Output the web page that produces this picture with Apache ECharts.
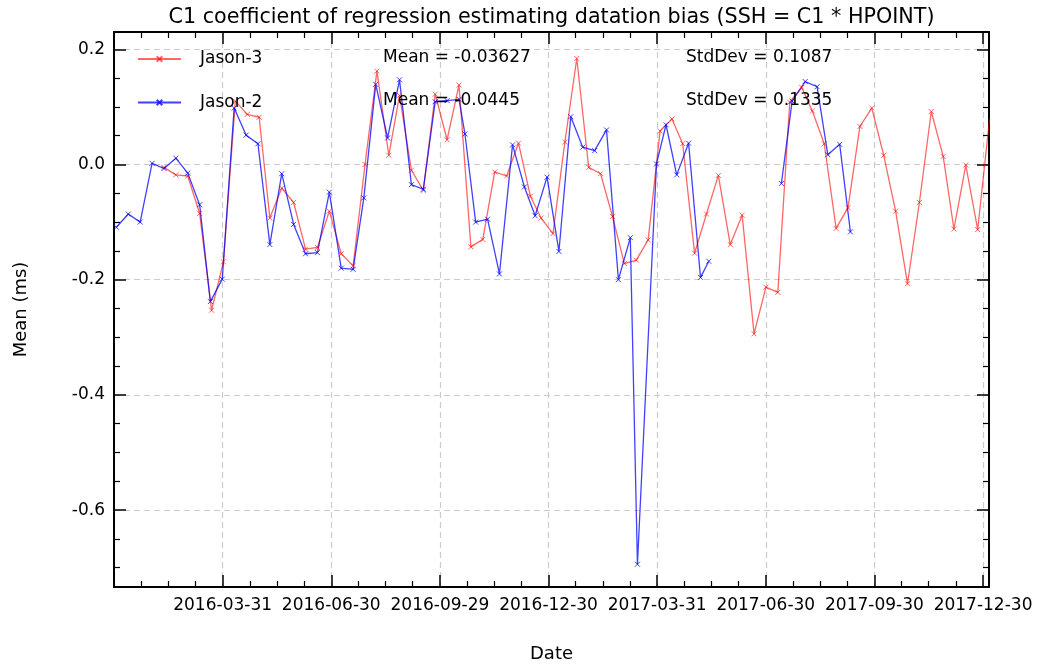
<!DOCTYPE html>
<html><head><meta charset="utf-8">
<script src="https://cdn.jsdelivr.net/npm/echarts@6/dist/echarts.min.js"></script>
<style>html,body{margin:0;padding:0;background:#fff;} #chart{width:1037px;height:668px;}</style>
</head><body><div id="chart"></div>
<script>
const TITLE = 'C1 coefficient of regression estimating datation bias (SSH = C1 * HPOINT)';
const X_NAME = 'Date';
const Y_NAME = 'Mean (ms)';
const xTickLabels = ['2016-03-31','2016-06-30','2016-09-29','2016-12-30','2017-03-31','2017-06-30','2017-09-30','2017-12-30'];
const seriesNames = ['Jason-3', 'Jason-2'];
const statMeans = ['-0.03627', '-0.0445'];
const statStdDevs = ['0.1087', '0.1335'];

const j3Dates = ['2016-02-11','2016-02-21','2016-03-02','2016-03-12','2016-03-22','2016-04-01','2016-04-11','2016-04-21','2016-05-01','2016-05-10',
  '2016-05-20','2016-05-30','2016-06-09','2016-06-19','2016-06-29','2016-07-09','2016-07-19','2016-07-29','2016-08-08','2016-08-18',
  '2016-08-27','2016-09-06','2016-09-16','2016-09-26','2016-10-06','2016-10-16','2016-10-26','2016-11-05','2016-11-15','2016-11-25',
  '2016-12-05','2016-12-15','2016-12-24','2017-01-03','2017-01-13','2017-01-23','2017-02-02','2017-02-12','2017-02-22','2017-03-04',
  '2017-03-14','2017-03-24','2017-04-03','2017-04-13','2017-04-22','2017-05-02','2017-05-12','2017-05-22','2017-06-01','2017-06-11',
  '2017-06-21','2017-07-01','2017-07-11','2017-07-21','2017-07-31','2017-08-09','2017-08-19','2017-08-29','2017-09-08','2017-09-18',
  '2017-09-28','2017-10-08','2017-10-18','2017-10-28','2017-11-07','2017-11-17','2017-11-27','2017-12-06','2017-12-16','2017-12-26',
  '2018-01-05'];
const j3Values = [-0.005,-0.018,-0.020,-0.085,-0.253,-0.169,0.110,0.087,0.082,-0.093,
  -0.041,-0.066,-0.147,-0.144,-0.081,-0.155,-0.176,0.000,0.162,0.016,
  0.120,-0.010,-0.045,0.122,0.043,0.138,-0.143,-0.130,-0.013,-0.020,
  0.037,-0.055,-0.093,-0.120,0.039,0.184,-0.005,-0.016,-0.090,-0.172,
  -0.166,-0.131,0.058,0.079,0.036,-0.154,-0.086,-0.019,-0.139,-0.088,
  -0.294,-0.213,-0.222,0.108,0.134,0.093,0.036,-0.111,-0.075,0.066,
  0.098,0.016,-0.081,-0.207,-0.066,0.092,0.014,-0.112,-0.001,-0.113,
  0.079];

const j2Dates = ['2016-01-02','2016-01-12','2016-01-22','2016-02-01','2016-02-11','2016-02-21','2016-03-02','2016-03-12','2016-03-21','2016-03-31',
  '2016-04-10','2016-04-20','2016-04-30','2016-05-10','2016-05-20','2016-05-30','2016-06-09','2016-06-19','2016-06-29','2016-07-09',
  '2016-07-19','2016-07-28','2016-08-07','2016-08-17','2016-08-27','2016-09-06','2016-09-16','2016-09-26','2016-10-06','2016-10-16',
  '2016-10-21','2016-10-30','2016-11-09','2016-11-19','2016-11-30','2016-12-10','2016-12-19','2016-12-29','2017-01-08','2017-01-18',
  '2017-01-28','2017-02-07','2017-02-17','2017-02-27','2017-03-09','2017-03-15','2017-03-31','2017-04-08','2017-04-17','2017-04-27',
  '2017-05-07','2017-05-14','2017-07-14','2017-07-23','2017-08-03','2017-08-13','2017-08-22','2017-09-01','2017-09-10'];
const j2Values = [-0.109,-0.086,-0.100,0.002,-0.007,0.011,-0.015,-0.070,-0.238,-0.199,
  0.098,0.051,0.036,-0.139,-0.016,-0.104,-0.155,-0.153,-0.048,-0.180,
  -0.182,-0.058,0.139,0.046,0.147,-0.035,-0.043,0.109,0.111,0.113,
  0.053,-0.100,-0.095,-0.190,0.034,-0.039,-0.089,-0.022,-0.151,0.083,
  0.030,0.024,0.060,-0.200,-0.127,-0.694,0.001,0.069,-0.018,0.037,
  -0.196,-0.168,-0.033,0.110,0.144,0.135,0.017,0.035,-0.117];

// axis setup: x in days since 2015-12-31, major ticks every quarter-year
const EPOCH = Date.UTC(2015, 11, 31);
const DAY = 86400000;
const X_STEP = 365.25 / 4;
const X_MIN = 0, X_MAX = 735.5;
const Y_MIN = -0.7335, Y_MAX = 0.230;

function toDay(s) { return (Date.parse(s + 'T00:00:00Z') - EPOCH) / DAY; }
function buildSeries(dates, values, gapDays) {
  const out = [];
  for (let i = 0; i < dates.length; i++) {
    const d = toDay(dates[i]);
    if (i > 0 && d - toDay(dates[i - 1]) > gapDays) out.push([(d + toDay(dates[i - 1])) / 2, '-']);
    out.push([d, values[i]]);
  }
  return out;
}

const FONT = '"DejaVu Sans", "Liberation Sans", sans-serif';
const red = 'rgba(255,0,0,0.6)';
const blue = 'rgba(0,0,255,0.75)';
const XSYM = 'path://M0,0L10,10M10,0L0,10';

const chart = echarts.init(document.getElementById('chart'), null, {renderer: 'canvas'});

function xFmt(v) {
  const k = v / X_STEP, r = Math.round(k);
  if (Math.abs(k - r) > 1e-3 || r < 1 || r > xTickLabels.length) return '';
  return xTickLabels[r - 1];
}
function yFmt(v) {
  const k = v / 0.2, r = Math.round(k);
  if (Math.abs(k - r) > 1e-6) return '';
  return (r * 0.2).toFixed(1);
}

const frame = {show: true, onZero: false, lineStyle: {color: '#000', width: 2}};
const majorTick = {show: true, inside: true, length: 12, lineStyle: {color: '#000', width: 1.5}};
const minorTick = {show: true, splitNumber: 4, length: 6, lineStyle: {color: '#000', width: 1.2}};
const grid = {show: true, lineStyle: {color: '#cccccc', width: 1.2, type: [6, 4]}};

const option = {
  animation: false,
  backgroundColor: '#fff',
  title: {
    text: TITLE, left: 551.5, top: 7, textAlign: 'center', padding: 0,
    textStyle: {fontFamily: FONT, fontSize: 20.7, fontWeight: 'normal', color: '#000'}
  },
  legend: {
    orient: 'vertical', left: 137, top: 50.5, padding: 0,
    itemWidth: 43, itemHeight: 7, itemGap: 26.5,
    data: seriesNames,
    textStyle: {fontFamily: FONT, fontSize: 17, color: '#000', padding: [0, 0, 0, 14]}
  },
  grid: {left: 114, right: 48, top: 32, bottom: 78, containLabel: false},
  xAxis: [{
    type: 'value', position: 'bottom', min: X_MIN, max: X_MAX, interval: X_STEP,
    name: X_NAME, nameLocation: 'middle', nameGap: 58,
    nameTextStyle: {fontFamily: FONT, fontSize: 18, color: '#000'},
    axisLine: frame, axisTick: majorTick, minorTick: minorTick,
    axisLabel: {fontFamily: FONT, fontSize: 17, color: '#000', margin: 10, formatter: xFmt, showMinLabel: false, showMaxLabel: false},
    splitLine: grid
  }, {
    type: 'value', position: 'top', min: X_MIN, max: X_MAX, interval: X_STEP,
    axisLine: frame, axisTick: majorTick, minorTick: minorTick,
    axisLabel: {show: false}, splitLine: {show: false}
  }],
  yAxis: [{
    type: 'value', position: 'left', min: Y_MIN, max: Y_MAX, splitNumber: 5,
    name: Y_NAME, nameLocation: 'middle', nameGap: 84,
    nameTextStyle: {fontFamily: FONT, fontSize: 18, color: '#000'},
    axisLine: frame, axisTick: majorTick, minorTick: minorTick,
    axisLabel: {fontFamily: FONT, fontSize: 17, color: '#000', margin: 9, formatter: yFmt},
    splitLine: grid
  }, {
    type: 'value', position: 'right', min: Y_MIN, max: Y_MAX, splitNumber: 5,
    axisLine: frame, axisTick: majorTick, minorTick: minorTick,
    axisLabel: {show: false}, splitLine: {show: false}
  }],
  series: [{
    name: seriesNames[0], type: 'line', xAxisIndex: 0, yAxisIndex: 0,
    data: buildSeries(j3Dates, j3Values, 30),
    symbol: XSYM, symbolSize: 5, showSymbol: true, connectNulls: false,
    lineStyle: {color: red, width: 1.3},
    itemStyle: {color: red, borderColor: red, borderWidth: 1},
    emphasis: {disabled: true}
  }, {
    name: seriesNames[1], type: 'line', xAxisIndex: 0, yAxisIndex: 0,
    data: buildSeries(j2Dates, j2Values, 30),
    symbol: XSYM, symbolSize: 5, showSymbol: true, connectNulls: false,
    lineStyle: {color: blue, width: 1.3},
    itemStyle: {color: blue, borderColor: blue, borderWidth: 1},
    emphasis: {disabled: true}
  }],
  graphic: [
    {type: 'text', x: 383, y: 58, z: 10, style: {text: 'Mean = ' + statMeans[0], font: '17px ' + FONT, fill: '#000', verticalAlign: 'middle'}},
    {type: 'text', x: 686, y: 58, z: 10, style: {text: 'StdDev = ' + statStdDevs[0], font: '17px ' + FONT, fill: '#000', verticalAlign: 'middle'}},
    {type: 'text', x: 383, y: 101, z: 10, style: {text: 'Mean = ' + statMeans[1], font: '17px ' + FONT, fill: '#000', verticalAlign: 'middle'}},
    {type: 'text', x: 686, y: 101, z: 10, style: {text: 'StdDev = ' + statStdDevs[1], font: '17px ' + FONT, fill: '#000', verticalAlign: 'middle'}}
  ]
};
chart.setOption(option);
</script></body></html>
